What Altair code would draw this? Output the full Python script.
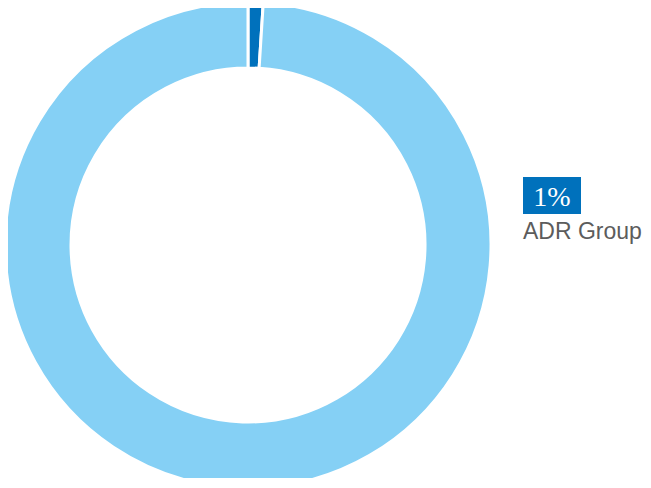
import altair as alt
import pandas as pd

categories = ["ADR Group", "Other"]
values = [1, 99]
colors = ["#0071bc", "#85d0f5"]
label_pct = "1%"
label_name = "ADR Group"

df = pd.DataFrame({"category": categories, "value": values, "order": [0, 1]})

donut = alt.Chart(df).mark_arc(
    innerRadius=177, outerRadius=243, stroke="white", strokeWidth=3
).encode(
    theta=alt.Theta("value:Q", stack=True),
    order=alt.Order("order:Q"),
    color=alt.Color("category:N", scale=alt.Scale(domain=categories, range=colors), legend=None),
    x=alt.value(240),
    y=alt.value(237),
)

box = alt.Chart(pd.DataFrame({"t": [label_pct]})).mark_rect(color=colors[0]).encode(
    x=alt.value(515), x2=alt.value(573), y=alt.value(169), y2=alt.value(206)
)
pct = alt.Chart(pd.DataFrame({"t": [label_pct]})).mark_text(
    font="Liberation Serif", fontSize=28, color="white", align="center", baseline="alphabetic"
).encode(text="t:N", x=alt.value(544), y=alt.value(198))
name = alt.Chart(pd.DataFrame({"t": [label_name]})).mark_text(
    font="Liberation Sans", fontSize=23, color="#5c5c5c", align="left", baseline="alphabetic"
).encode(text="t:N", x=alt.value(515), y=alt.value(231))

chart = alt.layer(donut, box, pct, name).properties(
    width=635, height=470, autosize=alt.AutoSizeParams(type="none"), padding=0
).configure_view(stroke=None)

chart.save("out.html", embed_options={"renderer": "svg", "actions": False})
